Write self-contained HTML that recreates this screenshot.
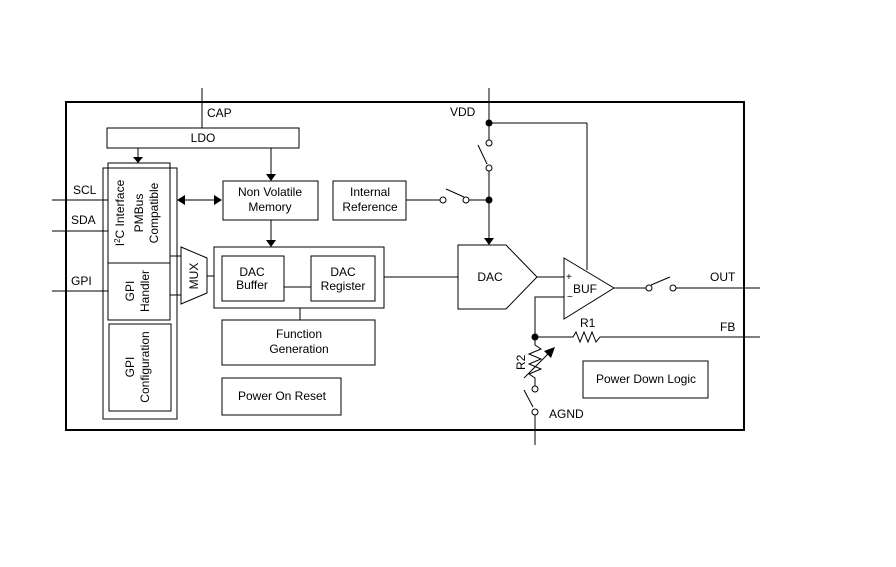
<!DOCTYPE html>
<html><head><style>
html,body{margin:0;padding:0;background:#fff;}
svg{display:block;}
text{font-family:"Liberation Sans",Arial,sans-serif;font-size:12px;fill:#000;}
</style></head><body>
<svg width="896" height="567" viewBox="0 0 896 567" xmlns="http://www.w3.org/2000/svg">
<g fill="none" stroke="#000" stroke-width="1">
<rect x="66" y="102" width="678" height="328" stroke-width="2"/>
<line x1="202" y1="88" x2="202" y2="128"/>
<rect x="107" y="128" width="192" height="20"/>
<rect x="103" y="168" width="74" height="251"/>
<rect x="108" y="163" width="62" height="100"/>
<rect x="108" y="263" width="62" height="57"/>
<rect x="109" y="324" width="62" height="87"/>
<line x1="138" y1="148" x2="138" y2="157"/>
<line x1="52" y1="200" x2="108" y2="200"/>
<line x1="52" y1="231" x2="108" y2="231"/>
<line x1="52" y1="291" x2="108" y2="291"/>
<line x1="185" y1="200" x2="214" y2="200"/>
<rect x="223" y="181" width="95" height="39"/>
<line x1="271" y1="148" x2="271" y2="174"/>
<rect x="333" y="181" width="73" height="39"/>
<line x1="271" y1="220" x2="271" y2="240"/>
<rect x="214" y="247" width="170" height="61"/>
<rect x="222" y="256" width="62" height="45"/>
<rect x="311" y="256" width="64" height="45"/>
<line x1="284" y1="287" x2="311" y2="287"/>
<polygon points="181,247 207,258 207,293 181,304"/>
<line x1="170" y1="256" x2="181" y2="256"/>
<line x1="170" y1="295" x2="181" y2="295"/>
<line x1="207" y1="276" x2="214" y2="276"/>
<rect x="222" y="320" width="153" height="45"/>
<line x1="300" y1="308" x2="300" y2="320"/>
<rect x="222" y="378" width="119" height="37"/>
<line x1="384" y1="277" x2="458" y2="277"/>
<!-- VDD -->
<line x1="489" y1="88" x2="489" y2="140"/>
<line x1="489" y1="123" x2="587" y2="123"/>
<line x1="587" y1="123" x2="587" y2="270"/>
<circle cx="489" cy="143" r="3" fill="#fff"/>
<circle cx="489" cy="168" r="3" fill="#fff"/>
<line x1="478" y1="145" x2="487" y2="164"/>
<line x1="489" y1="171" x2="489" y2="238"/>
<line x1="406" y1="200" x2="440" y2="200"/>
<circle cx="443" cy="200" r="3" fill="#fff"/>
<circle cx="466" cy="200" r="3" fill="#fff"/>
<line x1="446" y1="189" x2="464" y2="197"/>
<line x1="469" y1="200" x2="489" y2="200"/>
<polygon points="458,245 506,245 537,277 506,309 458,309"/>
<line x1="537" y1="277" x2="564" y2="277"/>
<polygon points="564,258 614,288 564,319" fill="#fff"/>
<line x1="614" y1="288" x2="646" y2="288"/>
<circle cx="649" cy="288" r="3" fill="#fff"/>
<circle cx="673" cy="288" r="3" fill="#fff"/>
<line x1="651" y1="285" x2="670" y2="277"/>
<line x1="676" y1="288" x2="760" y2="288"/>
<polyline points="564,297 535,297 535,337"/>
<polyline points="535,337 573,337 576,332 580,342 584,332 588,342 592,332 596,342 600,337 760,337"/>
<polyline points="535,337 535,345 541,349 529,354 541,359 529,364 541,369 529,374 535,378 535,386"/>
<line x1="524" y1="378" x2="548" y2="354"/>
<circle cx="535" cy="389" r="3" fill="#fff"/>
<circle cx="535" cy="412" r="3" fill="#fff"/>
<line x1="524" y1="390" x2="533" y2="407"/>
<line x1="535" y1="415" x2="535" y2="445"/>
<rect x="583" y="361" width="125" height="37"/>
</g>
<g fill="#000" stroke="none">
<polygon points="133,157 143,157 138,163"/>
<polygon points="266,174 276,174 271,181"/>
<polygon points="266,240 276,240 271,247"/>
<polygon points="484,238 494,238 489,245"/>
<polygon points="177,200 185,195 185,205"/>
<polygon points="222,200 214,195 214,205"/>
<polygon points="555,347 544,351 551,358"/>
<circle cx="489" cy="123" r="3.5"/>
<circle cx="489" cy="200" r="3.5"/>
<circle cx="535" cy="337" r="3.5"/>
</g>
<text x="207" y="117">CAP</text>
<text x="203" y="142" text-anchor="middle">LDO</text>
<text x="73" y="194">SCL</text>
<text x="71" y="224">SDA</text>
<text x="71" y="285">GPI</text>
<text x="450" y="116">VDD</text>
<text x="270" y="196" text-anchor="middle">Non Volatile</text>
<text x="270" y="211" text-anchor="middle">Memory</text>
<text x="370" y="196" text-anchor="middle">Internal</text>
<text x="370" y="211" text-anchor="middle">Reference</text>
<text x="252" y="276" text-anchor="middle">DAC</text>
<text x="252" y="289" text-anchor="middle">Buffer</text>
<text x="343" y="276" text-anchor="middle">DAC</text>
<text x="343" y="290" text-anchor="middle">Register</text>
<text x="299" y="338" text-anchor="middle">Function</text>
<text x="299" y="353" text-anchor="middle">Generation</text>
<text x="282" y="400" text-anchor="middle">Power On Reset</text>
<text x="646" y="383" text-anchor="middle">Power Down Logic</text>
<text x="490" y="281" text-anchor="middle">DAC</text>
<text x="573" y="293" style="font-size:12px">BUF</text>
<text x="566" y="280" style="font-size:10px">+</text>
<text x="567" y="300" style="font-size:10px">−</text>
<text x="710" y="281">OUT</text>
<text x="720" y="331">FB</text>
<text x="580" y="327">R1</text>
<text x="549" y="418">AGND</text>
<text transform="translate(525,370) rotate(-90)">R2</text>
<text transform="translate(124,213) rotate(-90)" text-anchor="middle">I<tspan dy="-4" style="font-size:8px">2</tspan><tspan dy="4">C Interface</tspan></text>
<text transform="translate(143,213) rotate(-90)" text-anchor="middle">PMBus</text>
<text transform="translate(158,213) rotate(-90)" text-anchor="middle">Compatible</text>
<text transform="translate(134,291) rotate(-90)" text-anchor="middle">GPI</text>
<text transform="translate(149,291) rotate(-90)" text-anchor="middle">Handler</text>
<text transform="translate(134,367) rotate(-90)" text-anchor="middle">GPI</text>
<text transform="translate(149,367) rotate(-90)" text-anchor="middle">Configuration</text>
<text transform="translate(198,276) rotate(-90)" text-anchor="middle">MUX</text>
</svg>
</body></html>
